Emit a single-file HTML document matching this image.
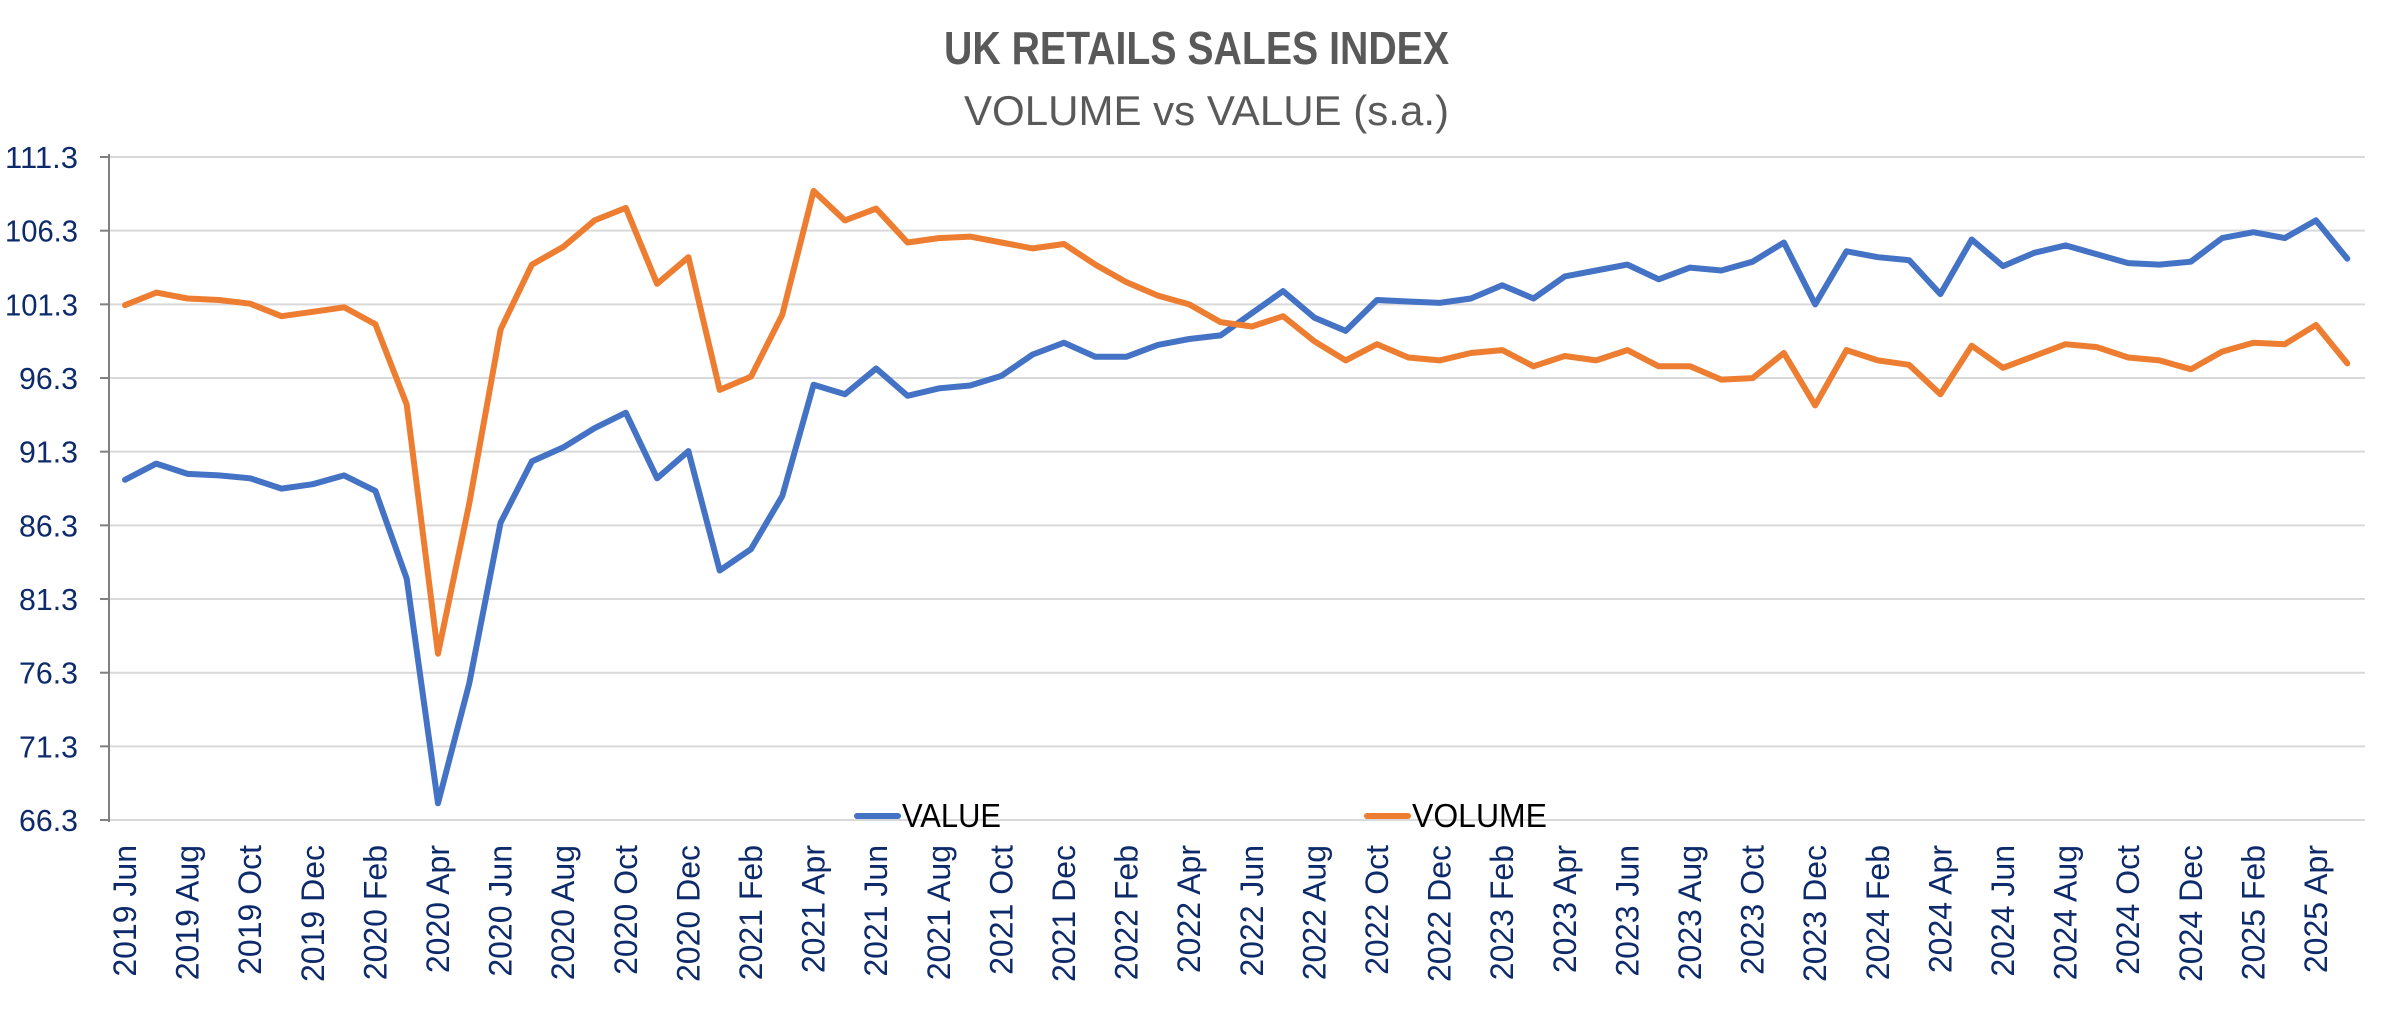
<!DOCTYPE html>
<html><head><meta charset="utf-8"><style>
html,body{margin:0;padding:0;background:#fff;}
svg{display:block;}
</style></head><body>
<svg id="c" xmlns="http://www.w3.org/2000/svg" width="2392" height="1033" viewBox="0 0 2392 1033">
<rect width="2392" height="1033" fill="#fff"/>
<text x="944" y="64" font-family="Liberation Sans, sans-serif" font-weight="bold" font-size="46" fill="#595959" textLength="505" lengthAdjust="spacingAndGlyphs">UK RETAILS SALES INDEX</text>
<text x="964" y="125" font-family="Liberation Sans, sans-serif" font-size="42" fill="#595959" textLength="485" lengthAdjust="spacingAndGlyphs">VOLUME vs VALUE (s.a.)</text>
<g id="g"></g>
</svg>
<script>
var blue=[89.4,90.5,89.8,89.7,89.5,88.8,89.1,89.7,88.65,82.7,67.45,75.6,86.5,90.65,91.6,92.9,93.95,89.5,91.35,83.25,84.7,88.3,
95.85,95.2,96.95,95.1,95.6,95.8,96.45,97.9,98.7,97.75,97.75,98.55,98.95,99.2,100.7,102.2,
100.4,99.5,101.6,101.5,101.4,101.7,102.6,101.7,103.2,103.6,104.0,103.0,103.8,103.6,104.2,105.5,101.3,104.9,104.5,104.3,
102.0,105.7,103.9,104.8,105.3,104.7,104.1,104.0,104.2,105.8,106.2,105.8,107.0,104.4];
var orange=[101.25,102.1,101.7,101.6,101.35,100.5,100.8,101.1,99.95,94.5,77.6,87.8,99.6,104.0,105.2,107.0,107.85,102.7,104.5,95.5,96.4,100.6,
109.0,107.0,107.8,105.5,105.8,105.9,105.5,105.1,105.4,104.0,102.8,101.9,101.3,100.1,99.8,100.5,
98.8,97.5,98.6,97.7,97.5,98.0,98.2,97.1,97.8,97.5,98.2,97.1,97.1,96.2,96.3,98.0,94.45,98.2,97.5,97.2,
95.2,98.5,97.0,97.8,98.6,98.4,97.7,97.5,96.9,98.1,98.7,98.6,99.9,97.3];
function X(i){return 125+31.3*i;}
function Y(v){return 157+(111.3-v)*14.74;}
var s='';
var ticks=['111.3','106.3','101.3','96.3','91.3','86.3','81.3','76.3','71.3','66.3'];
for(var k=0;k<10;k++){var y=157+k*73.67;
s+='<line x1="109" x2="2365" y1="'+y+'" y2="'+y+'" stroke="#d9d9d9" stroke-width="2"/>';
s+='<line x1="100" x2="109" y1="'+y+'" y2="'+y+'" stroke="#808080" stroke-width="2"/>';
var tl=ticks[k].length==5?73:59;
s+='<text x="78" y="'+(y+11)+'" text-anchor="end" font-family="Liberation Sans, sans-serif" font-size="31" fill="#0d2a6b" textLength="'+tl+'" lengthAdjust="spacingAndGlyphs">'+ticks[k]+'</text>';}
s+='<line x1="109" x2="109" y1="154" y2="822" stroke="#808080" stroke-width="2"/>';
var mon=['Jun','Jul','Aug','Sep','Oct','Nov','Dec','Jan','Feb','Mar','Apr','May'];
for(var i=0;i<72;i+=2){var yr=2019+Math.floor((i+5)/12);var m=mon[i%12];var x=X(i);
s+='<text transform="translate('+(x+11)+',845) rotate(-90)" text-anchor="end" font-family="Liberation Sans, sans-serif" font-size="32" fill="#0d2a6b">'+yr+' '+m+'</text>';}
function pl(d,c){var p=d.map(function(v,i){return X(i).toFixed(1)+','+Y(v).toFixed(1);}).join(' ');
return '<polyline points="'+p+'" fill="none" stroke="'+c+'" stroke-width="6" stroke-linejoin="round" stroke-linecap="round"/>';}
s+=pl(blue,'#4472C4');
s+=pl(orange,'#ED7D31');
s+='<line x1="857" x2="898" y1="816" y2="816" stroke="#4472C4" stroke-width="6" stroke-linecap="round"/>';
s+='<text x="902" y="827" font-family="Liberation Sans, sans-serif" font-size="33" fill="#000" textLength="99" lengthAdjust="spacingAndGlyphs">VALUE</text>';
s+='<line x1="1367" x2="1408" y1="816" y2="816" stroke="#ED7D31" stroke-width="6" stroke-linecap="round"/>';
s+='<text x="1412" y="827" font-family="Liberation Sans, sans-serif" font-size="33" fill="#000" textLength="135" lengthAdjust="spacingAndGlyphs">VOLUME</text>';
document.getElementById('g').innerHTML=s;
</script>
</body></html>
